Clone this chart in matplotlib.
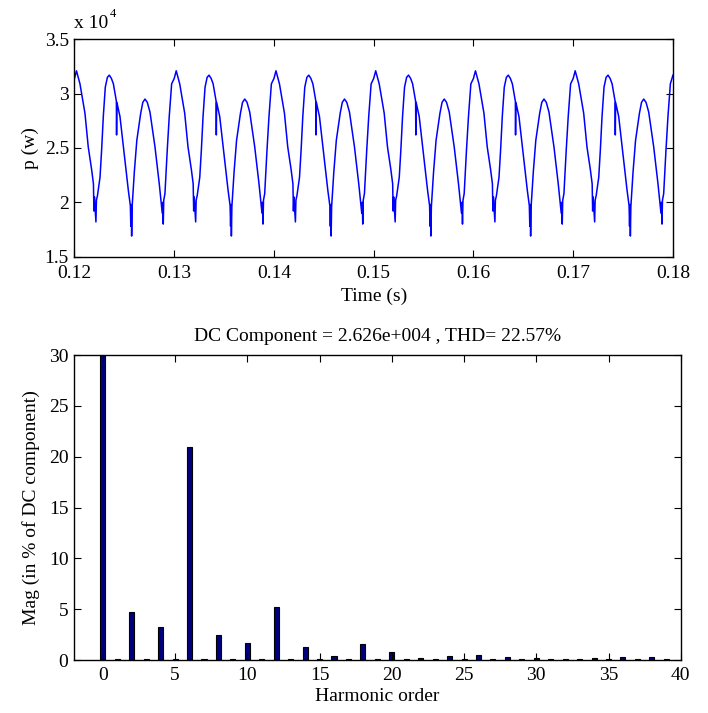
import numpy as np
import matplotlib
matplotlib.use('Agg')
import matplotlib.pyplot as plt
from matplotlib.ticker import FuncFormatter

plt.rcParams['font.family'] = ['Liberation Serif', 'DejaVu Serif']
plt.rcParams['font.size'] = 14

# --- potencia instantanea (una ventana de 10 ms) ---
# tiempo dentro del periodo [ms] y p [x 1e4 W]
t_periodo = [0.0, 0.2, 0.55, 1.05, 1.38, 1.72, 1.9, 1.95, 2.0, 2.15, 2.2, 2.3,
             2.56, 2.72, 2.89, 3.09, 3.3, 3.49, 3.7, 3.9, 4.2, 4.22, 4.25, 4.56,
             5.06, 5.4, 5.6, 5.65, 5.7, 5.73, 5.78, 6.0, 6.25, 6.64, 6.85, 7.07,
             7.3, 7.57, 8.07, 8.5, 8.74, 8.8, 8.85, 8.9, 8.95, 9.07, 9.3, 9.5,
             9.74]
p_periodo = [3.14, 3.21, 3.09, 2.82, 2.51, 2.30, 2.17, 1.92, 2.05, 1.82, 2.02, 2.06,
             2.23, 2.48, 2.79, 3.06, 3.15, 3.17, 3.14, 3.09, 2.93, 2.62, 2.92, 2.79,
             2.39, 2.11, 1.97, 1.78, 1.98, 1.69, 1.96, 2.28, 2.57, 2.82, 2.92, 2.95,
             2.92, 2.83, 2.51, 2.17, 1.96, 1.90, 2.00, 1.80, 2.02, 2.08, 2.48, 2.79,
             3.09]
inicio_periodos = [120, 130, 140, 150, 160, 170]  # ms
t_fin, p_fin = 180.0, 3.17

# --- espectro armonico (% de la componente DC) ---
orden = list(range(0, 40))
mag = [100, 0.12, 4.75, 0.12, 3.28, 0.1, 21.0, 0.12, 2.46, 0.12,
       1.64, 0.12, 5.18, 0.12, 1.25, 0.08, 0.43, 0.12, 1.54, 0.12,
       0.75, 0.12, 0.2, 0.1, 0.35, 0.1, 0.5, 0.12, 0.33, 0.1,
       0.23, 0.08, 0.1, 0.08, 0.2, 0.1, 0.33, 0.12, 0.33, 0.1]
titulo = 'DC Component = 2.626e+004 , THD= 22.57%'

t_ms = []
p_w = []
for t0 in inicio_periodos:
    t_ms += [t0 + dt for dt in t_periodo]
    p_w += p_periodo
t_ms.append(t_fin)
p_w.append(p_fin)
t = np.array(t_ms) / 1000.0
p = np.array(p_w) * 1e4

fig = plt.figure(figsize=(7.08, 7.13), dpi=100)

ax1 = fig.add_axes([0.1052, 0.640, 0.8453, 0.3049])
ax1.plot(t, p, color='#0000ff', lw=1.1)
ax1.set_xlim(0.12, 0.18)
ax1.set_ylim(1.5e4, 3.5e4)
ax1.set_xticks([0.12, 0.13, 0.14, 0.15, 0.16, 0.17, 0.18])
ax1.set_yticks([1.5e4, 2e4, 2.5e4, 3e4, 3.5e4])
ax1.yaxis.set_major_formatter(FuncFormatter(lambda v, _: '%g' % (v / 1e4)))
ax1.set_xlabel('Time (s)', labelpad=4)
ax1.set_ylabel('p (w)', labelpad=4)
ax1.text(0.0, 1.035, 'x 10', transform=ax1.transAxes, ha='left', va='bottom')
ax1.text(0.059, 1.09, '4', transform=ax1.transAxes, ha='left', va='bottom',
         fontsize=9)
ax1.tick_params(direction='in', top=True, right=True, length=5, width=0.8)
ax1.tick_params(axis='x', pad=6)
ax1.tick_params(axis='y', pad=4)

ax2 = fig.add_axes([0.1045, 0.0743, 0.857, 0.4278])
ax2.bar(orden, mag, width=0.35, color='#00007f', edgecolor='black', linewidth=0.8)
ax2.set_xlim(-2, 40)
ax2.set_ylim(0, 30)
ax2.set_xticks([0, 5, 10, 15, 20, 25, 30, 35, 40])
ax2.set_yticks([0, 5, 10, 15, 20, 25, 30])
ax2.set_xlabel('Harmonic order', labelpad=3)
ax2.set_ylabel('Mag (in % of DC component)', labelpad=6)
ax2.set_title(titulo, fontsize=14, pad=10)
ax2.tick_params(direction='in', top=True, right=True, length=5, width=0.8)
ax2.tick_params(axis='x', pad=5)
ax2.tick_params(axis='y', pad=4)

for ax in (ax1, ax2):
    for s in ax.spines.values():
        s.set_linewidth(1.0)

plt.savefig('out.png', dpi=100)
